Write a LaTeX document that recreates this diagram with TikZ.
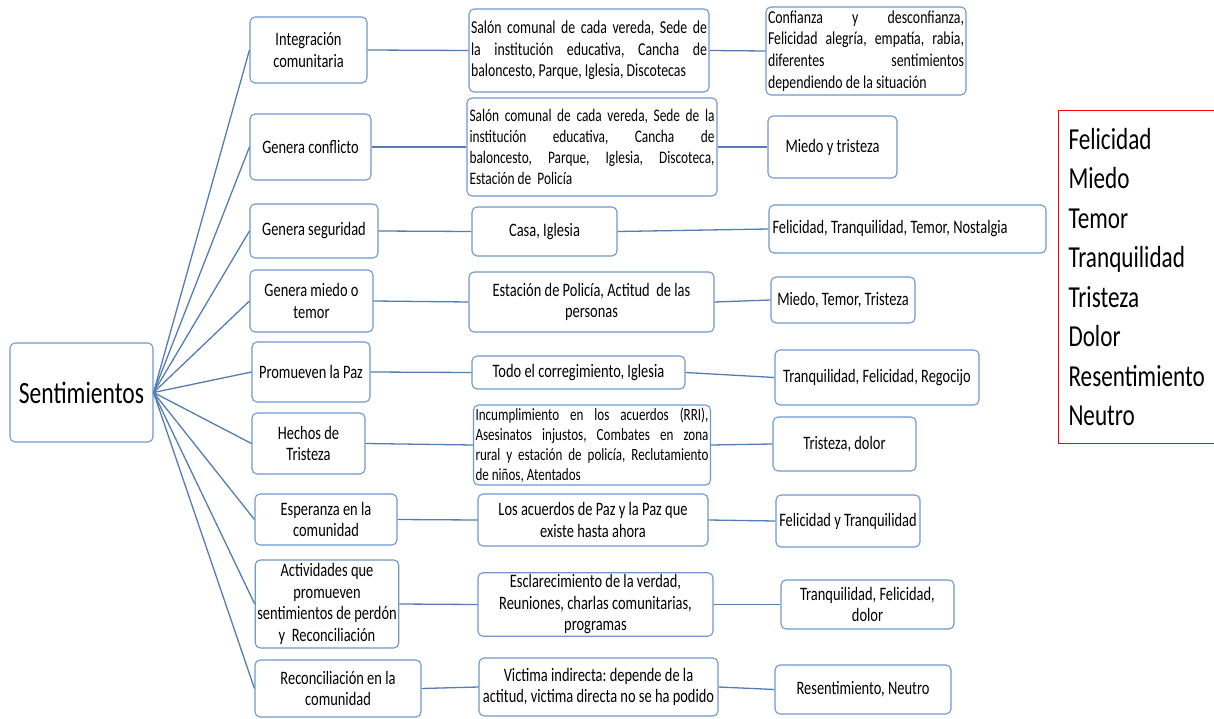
\documentclass[tikz,border=0pt]{standalone}
\usepackage{fontspec}
\setmainfont{Carlito}[FakeStretch=0.76]
\definecolor{cajaborde}{RGB}{112,152,206}
\definecolor{conector}{RGB}{84,125,180}
\frenchspacing

\begin{document}
\begin{tikzpicture}[x=1pt, y=-1pt,
   caja/.style={draw=cajaborde, line width=1.1pt, rounded corners=5pt, fill=white,
                inner sep=2pt, align=center, font=\fontsize{19}{21.5}\selectfont},
   just/.style={caja, align=justify, font=\fontsize{17.6}{21}\selectfont},
   rama/.style={draw=conector, line width=1.3pt}]
   \useasboundingbox (0,0) rectangle (1214,719);

   % raiz
   \node[caja, minimum width=143pt, minimum height=99pt, font=\fontsize{31}{36}\selectfont] (raiz) at (81.5,392.5) {Sentimientos};

   % primera columna
   \node[caja, minimum width=117pt, minimum height=66pt] (tema1) at (308.5,50) {Integración\\comunitaria};
   \node[caja, minimum width=121pt, minimum height=66pt] (tema2) at (310.5,147) {Genera conflicto};
   \node[caja, minimum width=128pt, minimum height=54pt] (tema3) at (314,231) {Genera seguridad};
   \node[caja, minimum width=123pt, minimum height=62pt] (tema4) at (311.5,301) {Genera miedo o\\temor};
   \node[caja, minimum width=118pt, minimum height=60pt] (tema5) at (311,372) {Promueven la Paz};
   \node[caja, minimum width=113pt, minimum height=61pt] (tema6) at (308.5,443.5) {Hechos de\\Tristeza};
   \node[caja, minimum width=142pt, minimum height=51pt] (tema7) at (326,519.5) {Esperanza en la\\comunidad};
   \node[caja, minimum width=142pt, minimum height=88pt] (tema8) at (327,604) {Actividades que\\promueven\\sentimientos de perdón\\y~ Reconciliación};
   \node[caja, minimum width=166pt, minimum height=57pt] (tema9) at (338,688.5) {Reconciliación en la\\comunidad};

   % segunda columna
   \node[just, minimum width=240pt, minimum height=83pt, text width=236pt, font=\fontsize{18.2}{21.5}\selectfont] (lugar1) at (589,50.5)
      {Salón comunal de cada vereda, Sede de\linebreak la institución educativa, Cancha de\linebreak baloncesto, Parque, Iglesia, Discotecas};
   \node[just, minimum width=250pt, minimum height=98pt, text width=245pt] (lugar2) at (592,147)
      {Salón comunal de cada vereda, Sede de la\linebreak institución educativa, Cancha de\linebreak baloncesto, Parque, Iglesia, Discoteca,\linebreak Estación de~ Policía};
   \node[caja, minimum width=145pt, minimum height=49pt] (lugar3) at (544.5,231.5) {Casa, Iglesia};
   \node[caja, minimum width=245pt, minimum height=60pt] (lugar4) at (591.5,302) {Estación de Policía, Actitud~ de las\\personas};
   \node[caja, minimum width=213pt, minimum height=33pt] (lugar5) at (578.5,372.5) {Todo el corregimiento, Iglesia};
   \node[just, minimum width=236pt, minimum height=80pt, text width=233pt, font=\fontsize{17.2}{20}\selectfont] (lugar6) at (592,445)
      {Incumplimiento en los acuerdos (RRI),\linebreak Asesinatos injustos, Combates en zona\linebreak rural y estación de policía, Reclutamiento\linebreak de niños, Atentados};
   \node[caja, minimum width=230pt, minimum height=52pt] (lugar7) at (593,520) {Los acuerdos de Paz y la Paz que\\existe hasta ahora};
   \node[caja, minimum width=235pt, minimum height=63pt] (lugar8) at (595.5,604.5) {Esclarecimiento de la verdad,\\Reuniones, charlas comunitarias,\\programas};
   \node[caja, minimum width=239pt, minimum height=58pt] (lugar9) at (598.5,687) {Victima indirecta: depende de la\\actitud, victima directa no se ha podido};

   % tercera columna
   \node[just, minimum width=198pt, minimum height=88pt, text width=196pt, font=\fontsize{18.2}{21.8}\selectfont] (sent1) at (866,51)
      {Confianza y desconfianza,\linebreak Felicidad alegría, empatía, rabia,\linebreak diferentes sentimientos\linebreak dependiendo de la situación};
   \node[caja, minimum width=129pt, minimum height=62pt] (sent2) at (832.5,147) {Miedo y tristeza};
   \node[caja, minimum width=277pt, minimum height=48pt, align=flush left, text width=270pt] (sent3) at (907.5,229) {Felicidad, Tranquilidad, Temor, Nostalgia};
   \node[caja, minimum width=144pt, minimum height=46pt] (sent4) at (843,300) {Miedo, Temor, Tristeza};
   \node[caja, minimum width=204pt, minimum height=55pt] (sent5) at (877,377.5) {Tranquilidad, Felicidad, Regocijo};
   \node[caja, minimum width=143pt, minimum height=54pt] (sent6) at (844.5,444) {Tristeza, dolor};
   \node[caja, minimum width=144pt, minimum height=52pt] (sent7) at (848,521) {Felicidad y Tranquilidad};
   \node[caja, minimum width=173pt, minimum height=49pt] (sent8) at (867.5,604.5) {Tranquilidad, Felicidad,\\dolor};
   \node[caja, minimum width=176pt, minimum height=49pt] (sent9) at (863,689.5) {Resentimiento, Neutro};

   % conectores
   \foreach \i in {1,...,9} {
      \draw[rama] (raiz.east) -- (tema\i.west);
      \draw[rama] (tema\i.east) -- (lugar\i.west);
      \draw[rama] (lugar\i.east) -- (sent\i.west);
   }

   % lista de sentimientos
   \node[draw=red, line width=1pt, anchor=north west, minimum width=170pt, minimum height=333pt,
         text width=150pt, align=flush left, font=\fontsize{30.5}{39.5}\selectfont] (lista) at (1058,110)
      {Felicidad\\Miedo\\Temor\\Tranquilidad\\Tristeza\\Dolor\\Resentimiento\\Neutro};
\end{tikzpicture}
\end{document}
